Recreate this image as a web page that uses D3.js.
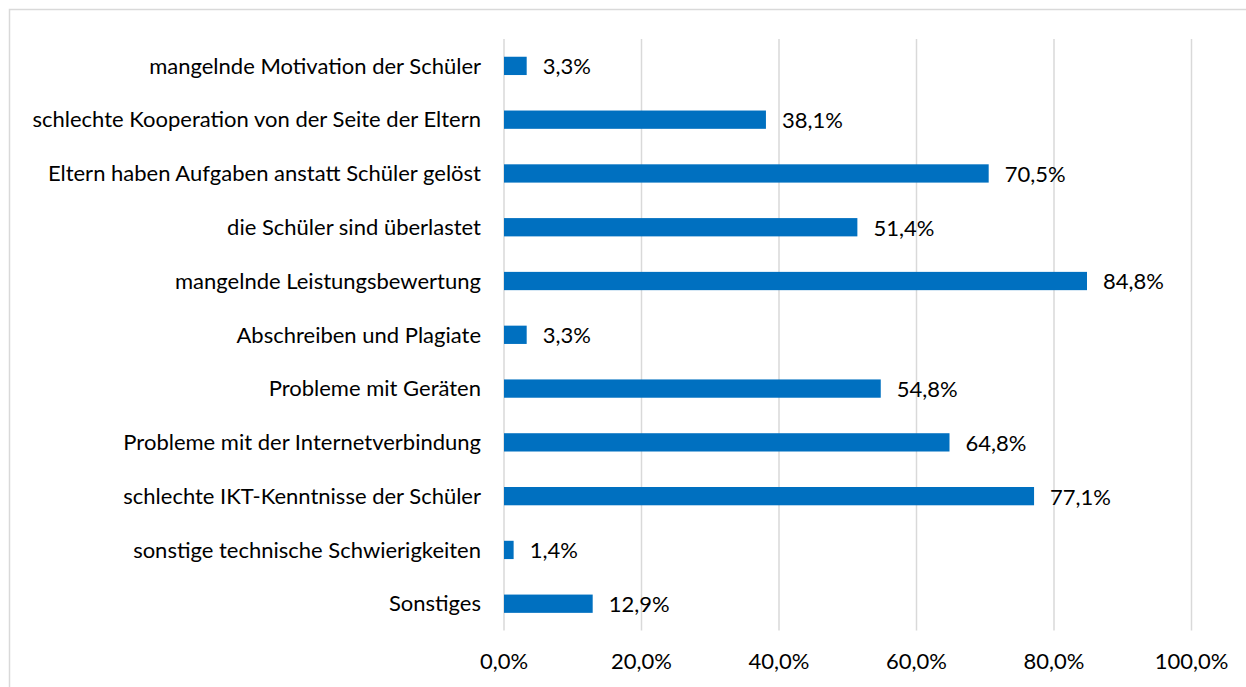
<!DOCTYPE html>
<html>
<head>
  <meta charset="utf-8">
  <title>Probleme im Fernunterricht</title>
  <style>
    body { margin: 0; background: #fff; }
    text { font-family: Lato, "Open Sans", sans-serif; fill: #000; }
  </style>
</head>
<body>
  <script src="https://cdn.jsdelivr.net/npm/d3@7"></script>
  <script>
    // categories top to bottom, values as share (0..1)
    let categories = [
      "mangelnde Motivation der Schüler",
      "schlechte Kooperation von der Seite der Eltern",
      "Eltern haben Aufgaben anstatt Schüler gelöst",
      "die Schüler sind überlastet",
      "mangelnde Leistungsbewertung",
      "Abschreiben und Plagiate",
      "Probleme mit Geräten",
      "Probleme mit der Internetverbindung",
      "schlechte IKT-Kenntnisse der Schüler",
      "sonstige technische Schwierigkeiten",
      "Sonstiges"
    ];
    let values = [0.033, 0.381, 0.705, 0.514, 0.848, 0.033, 0.548, 0.648, 0.771, 0.014, 0.129];
    let ticks = [0, 0.2, 0.4, 0.6, 0.8, 1.0];

    let width = 1246, height = 687;
    let plot = {left: 504, right: 1191.5, top: 39, bottom: 630.6};
    let fontSize = "22px";

    let de = d3.formatLocale({decimal: ",", thousands: ".", grouping: [3], currency: ["", "€"]});
    let pct = de.format(".1%");

    let svg = d3.select("body").append("svg")
      .attr("width", width)
      .attr("height", height);

    // outer chart border
    svg.append("rect")
      .attr("x", 9.5).attr("y", 9.5)
      .attr("width", 1260).attr("height", 700)
      .attr("fill", "none")
      .attr("stroke", "#d9d9d9")
      .attr("stroke-width", 1.5);

    let x = d3.scaleLinear().domain([0, 1]).range([plot.left, plot.right]);
    let y = d3.scaleBand().domain(categories).range([plot.top, plot.bottom])
      .paddingInner(0.66).paddingOuter(0.33);

    // gridlines
    svg.append("g").attr("id", "grid")
      .selectAll("line")
      .data(ticks)
      .enter()
      .append("line")
      .attr("x1", d => x(d)).attr("x2", d => x(d))
      .attr("y1", plot.top).attr("y2", plot.bottom)
      .attr("stroke", "#d9d9d9")
      .attr("stroke-width", 1.5);

    // tick labels
    svg.append("g").attr("id", "x-ticks")
      .selectAll("text")
      .data(ticks)
      .enter()
      .append("text")
      .attr("x", d => x(d))
      .attr("y", 669)
      .attr("text-anchor", "middle")
      .style("font-size", fontSize)
      .text(d => pct(d));

    // bars
    svg.append("g").attr("id", "bars")
      .selectAll("rect")
      .data(values)
      .enter()
      .append("rect")
      .attr("x", x(0))
      .attr("y", (d, i) => y(categories[i]))
      .attr("width", d => x(d) - x(0))
      .attr("height", y.bandwidth())
      .attr("fill", "#0070c0");

    // category labels
    svg.append("g").attr("id", "cat-labels")
      .selectAll("text")
      .data(categories)
      .enter()
      .append("text")
      .attr("x", 481)
      .attr("y", d => y(d) + y.bandwidth() / 2)
      .attr("dy", "0.35em")
      .attr("text-anchor", "end")
      .style("font-size", fontSize)
      .text(d => d);

    // value labels
    svg.append("g").attr("id", "val-labels")
      .selectAll("text")
      .data(values)
      .enter()
      .append("text")
      .attr("x", d => x(d) + 16)
      .attr("y", (d, i) => y(categories[i]) + y.bandwidth() / 2)
      .attr("dy", "0.38em")
      .style("font-size", fontSize)
      .text(d => pct(d));
  </script>
</body>
</html>
